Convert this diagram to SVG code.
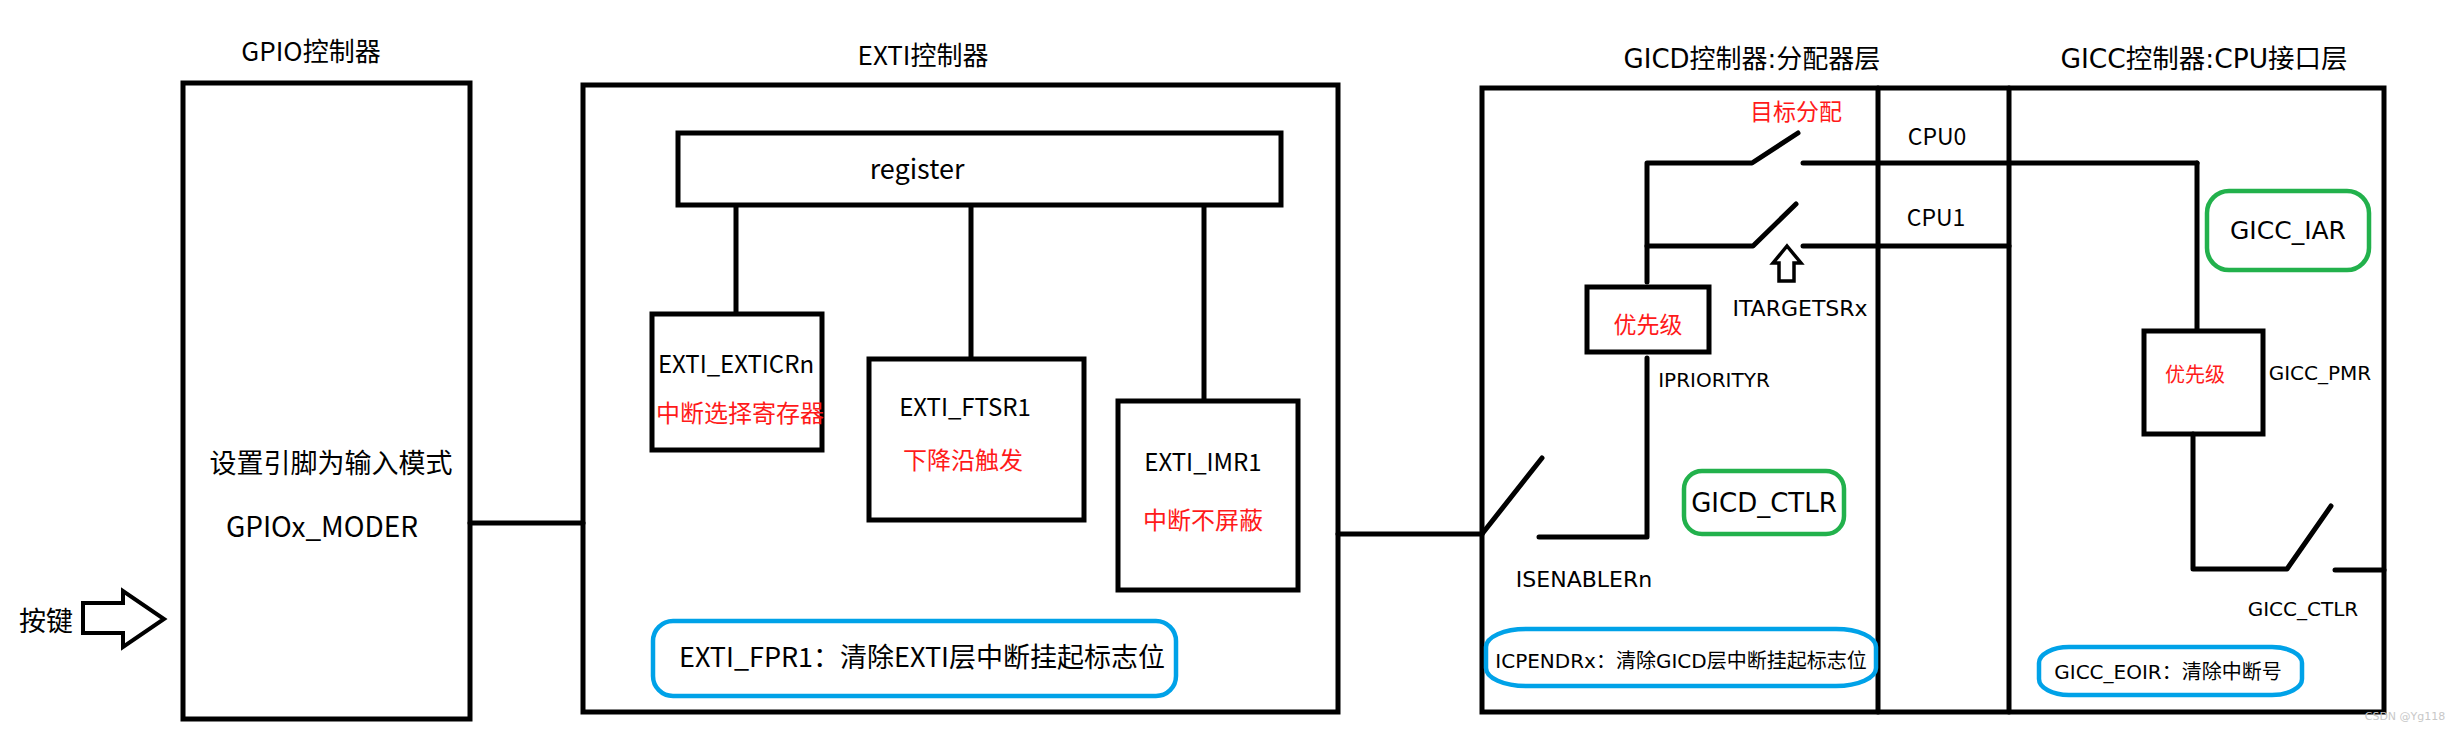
<svg xmlns="http://www.w3.org/2000/svg" width="2457" height="732" viewBox="0 0 2457 732">
<defs>
<style>
.box{fill:none;stroke:#000;stroke-width:5}
.ln{fill:none;stroke:#000;stroke-width:5;stroke-linecap:round;stroke-linejoin:round}
.blue{fill:none;stroke:#00a2e8;stroke-width:4.5}
.green{fill:none;stroke:#22b14c;stroke-width:4.5}
.t{font-family:"Noto Sans CJK SC","Noto Sans",sans-serif;fill:#000;text-anchor:middle}
.g{font-family:"DejaVu Sans","Noto Sans CJK SC",sans-serif;fill:#000;text-anchor:middle}
.red{fill:#ff1a1a}
</style>
</defs>
<rect x="0" y="0" width="2457" height="732" fill="#fff"/>

<g id="connectors">
<line class="ln" x1="470" y1="523" x2="583" y2="523"/>
<line class="ln" x1="1338" y1="534" x2="1482" y2="534"/>
<line class="ln" x1="736" y1="206" x2="736" y2="313"/>
<line class="ln" x1="971" y1="206" x2="971" y2="358"/>
<line class="ln" x1="1204" y1="206" x2="1204" y2="400"/>
</g>

<g id="gpio">
<text class="t" x="311" y="61" font-size="26">GPIO控制器</text>
<rect class="box" x="183" y="83" width="287" height="636"/>
<text class="t" x="331" y="473" font-size="27">设置引脚为输入模式</text>
<text class="t" x="322" y="537" font-size="28">GPIOx_MODER</text>
</g>

<g id="key">
<text class="t" x="46" y="631" font-size="27">按键</text>
<polygon points="83,603 123,603 123,591 164,619 123,647 123,633 83,633" fill="none" stroke="#000" stroke-width="4" stroke-linejoin="miter"/>
</g>

<g id="exti">
<text class="t" x="923" y="65" font-size="26">EXTI控制器</text>
<rect class="box" x="583" y="85" width="755" height="627"/>
</g>

<g id="register">
<rect class="box" x="678" y="133" width="603" height="72"/>
<text class="t" x="917" y="179" font-size="27">register</text>
</g>

<g id="exticr">
<rect class="box" x="652" y="314" width="170" height="136"/>
<text class="t" x="736" y="373" font-size="24">EXTI_EXTICRn</text>
<text class="t red" x="740" y="422" font-size="24">中断选择寄存器</text>
</g>

<g id="ftsr">
<rect class="box" x="869" y="359" width="215" height="161"/>
<text class="t" x="965" y="416" font-size="24">EXTI_FTSR1</text>
<text class="t red" x="963" y="469" font-size="24">下降沿触发</text>
</g>

<g id="imr">
<rect class="box" x="1118" y="401" width="180" height="189"/>
<text class="t" x="1203" y="471" font-size="24">EXTI_IMR1</text>
<text class="t red" x="1203" y="529" font-size="24">中断不屏蔽</text>
</g>

<g id="fpr">
<rect class="blue" x="653" y="621" width="523" height="75" rx="20" ry="20"/>
<text class="t" x="922" y="667" font-size="27">EXTI_FPR1：清除EXTI层中断挂起标志位</text>
</g>

<g id="gic-frame">
<text class="g" x="1752" y="68" font-size="26">GICD控制器:分配器层</text>
<text class="g" x="2204" y="68" font-size="26.5">GICC控制器:CPU接口层</text>
<rect class="box" x="1482" y="88" width="902" height="624"/>
<line class="ln" x1="1878" y1="88" x2="1878" y2="712"/>
<line class="ln" x1="2009" y1="88" x2="2009" y2="712"/>
</g>

<g id="gicd-wiring">
<polyline class="ln" points="1482,534 1542,458"/>
<polyline class="ln" points="1539,537 1647,537 1647,358"/>
<polyline class="ln" points="1647,282 1647,163 1752,163 1798,133"/>
<polyline class="ln" points="1647,246 1753,246 1796,204"/>
<line class="ln" x1="1803" y1="163" x2="2197" y2="163"/>
<line class="ln" x1="2197" y1="163" x2="2197" y2="330"/>
<line class="ln" x1="1803" y1="246" x2="2009" y2="246"/>
<polygon points="1787,246 1801,263 1794,263 1794,281 1779,281 1779,263 1773,263" fill="none" stroke="#000" stroke-width="3.5" stroke-linejoin="miter"/>
</g>

<g id="gicd-labels">
<text class="t red" x="1796" y="120" font-size="23">目标分配</text>
<text class="t" x="1937" y="145" font-size="23">CPU0</text>
<text class="t" x="1936" y="226" font-size="23">CPU1</text>
<text class="g" x="1800" y="316" font-size="22">ITARGETSRx</text>
<text class="g" x="1714" y="387" font-size="20">IPRIORITYR</text>
<text class="g" x="1584" y="587" font-size="22">ISENABLERn</text>
</g>

<g id="gicd-priority">
<rect class="box" x="1587" y="287" width="122" height="65"/>
<text class="t red" x="1648" y="333" font-size="23">优先级</text>
</g>

<g id="gicd-ctlr">
<rect class="green" x="1684" y="471" width="160" height="63" rx="18" ry="18"/>
<text class="g" x="1764" y="512" font-size="26">GICD_CTLR</text>
</g>

<g id="icpendr">
<rect class="blue" x="1486" y="629" width="390" height="57" rx="40" ry="18"/>
<text class="g" x="1681" y="668" font-size="20">ICPENDRx：清除GICD层中断挂起标志位</text>
</g>

<g id="gicc-iar">
<rect class="green" x="2207" y="191" width="162" height="79" rx="22" ry="22"/>
<text class="g" x="2288" y="239" font-size="25">GICC_IAR</text>
</g>

<g id="gicc-priority">
<rect class="box" x="2144" y="331" width="119" height="103"/>
<text class="t red" x="2195" y="382" font-size="20">优先级</text>
<text class="g" x="2320" y="380" font-size="20">GICC_PMR</text>
</g>

<g id="gicc-wiring">
<polyline class="ln" points="2193,434 2193,569 2287,569 2331,506"/>
<line class="ln" x1="2335" y1="570" x2="2384" y2="570"/>
<text class="g" x="2303" y="616" font-size="20">GICC_CTLR</text>
</g>

<g id="gicc-eoir">
<rect class="blue" x="2039" y="647" width="263" height="48" rx="30" ry="16"/>
<text class="g" x="2168" y="679" font-size="20">GICC_EOIR：清除中断号</text>
</g>

<text x="2405" y="720" font-family="DejaVu Sans, sans-serif" font-size="11" fill="#c8c8c8" text-anchor="middle">CSDN @Yg118</text>
</svg>
